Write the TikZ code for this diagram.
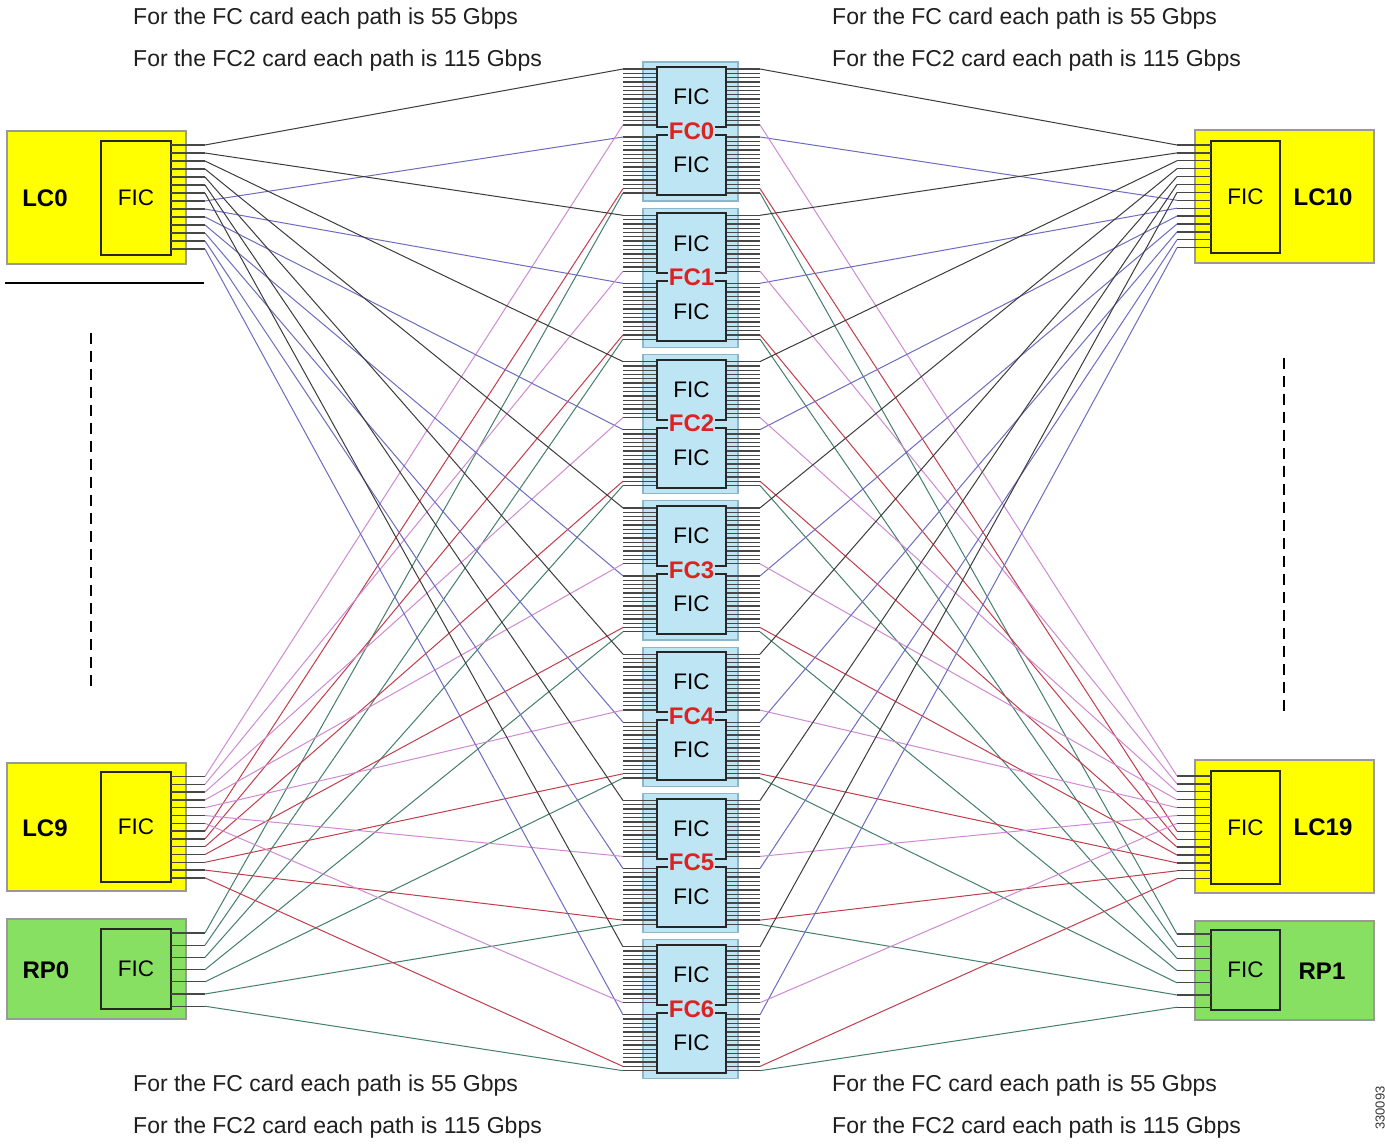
\documentclass[tikz,border=0pt]{standalone}
\usepackage{fontspec}
\setmainfont{Liberation Sans}
\usetikzlibrary{calc}
\definecolor{CardYellow}{HTML}{FFFF00}
\definecolor{CardGreen}{HTML}{88E062}
\definecolor{FabBlue}{HTML}{BEE5F3}
\definecolor{FabEdge}{HTML}{8FB6C8}
\definecolor{FCRed}{HTML}{DD2222}
\definecolor{LinkGrey}{HTML}{3C3C3C}
\definecolor{LinkBlue}{HTML}{6C6CC0}
\definecolor{LinkPink}{HTML}{CE8AD2}
\definecolor{LinkRed}{HTML}{C23C4C}
\definecolor{LinkGreen}{HTML}{447E6E}
\tikzset{
  card/.style={draw=black!40, line width=1.5pt, inner sep=0pt, outer sep=0pt},
  lcard/.style={card, fill=CardYellow},
  rpcard/.style={card, fill=CardGreen},
  ficbox/.style={draw=black!85, line width=2pt, inner sep=0pt, outer sep=0pt,
    font=\fontsize{22.5}{26}\selectfont},
  fabric/.style={draw=FabEdge, line width=1.2pt, fill=FabBlue, inner sep=0pt},
  stub/.style={draw=black!72, line width=1.3pt},
  link/.style={line width=1pt},
  cardname/.style={font=\fontsize{24}{28}\selectfont\bfseries},
  fcname/.style={font=\fontsize{24}{28}\selectfont\bfseries, text=FCRed,
    fill=FabBlue, inner sep=0.8pt},
  note/.style={font=\fontsize{23}{27}\selectfont, anchor=west, text=black!88,
    inner sep=0pt},
}

\begin{document}
\begin{tikzpicture}[x=1pt, y=-1pt]
  \fill[white] (0,0) rectangle (1385,1147);
  \useasboundingbox (0,0) rectangle (1385,1147);

  % notes above and below
  \node[note] (tl1) at (133,19) {For the FC card each path is 55 Gbps};
  \node[note] (tl2) at (133,61) {For the FC2 card each path is 115 Gbps};
  \node[note] (tr1) at (832,19) {For the FC card each path is 55 Gbps};
  \node[note] (tr2) at (832,61) {For the FC2 card each path is 115 Gbps};
  \node[note] (bl1) at (133,1086) {For the FC card each path is 55 Gbps};
  \node[note] (bl2) at (133,1128) {For the FC2 card each path is 115 Gbps};
  \node[note] (br1) at (832,1086) {For the FC card each path is 55 Gbps};
  \node[note] (br2) at (832,1128) {For the FC2 card each path is 115 Gbps};
  \node[rotate=90, anchor=base, inner sep=0pt, font=\fontsize{13}{15}\selectfont, text=black!80]
    (figno) at (1384.5,1108) {330093};

  % left side cards
  \node[lcard, minimum width=179pt, minimum height=133pt] (lc0) at (96.5,197.5) {};
  \node[lcard, minimum width=179pt, minimum height=128pt] (lc9) at (96.5,827) {};
  \node[rpcard, minimum width=179pt, minimum height=100pt] (rp0) at (96.5,969) {};
  \foreach \i in {0,...,13} {
    \coordinate (lc0-\i) at (205,{145+8*\i});
    \coordinate (lc9-\i) at (205,{776.5+7.8*\i});
  }
  \foreach \i in {0,...,6} \coordinate (rp0-\i) at (205,{933+12.2*\i});
  \node[ficbox, fill=CardYellow, minimum width=70pt, minimum height=114pt] (lc0fic) at (136,198) {FIC};
  \node[ficbox, fill=CardYellow, minimum width=70pt, minimum height=110pt] (lc9fic) at (136,827) {FIC};
  \node[ficbox, fill=CardGreen, minimum width=70pt, minimum height=80pt] (rp0fic) at (136,969) {FIC};
  \foreach \i in {0,...,13} {
    \draw[stub] (lc0fic.east |- lc0-\i) -- (lc0-\i);
    \draw[stub] (lc9fic.east |- lc9-\i) -- (lc9-\i);
  }
  \foreach \i in {0,...,6} \draw[stub] (rp0fic.east |- rp0-\i) -- (rp0-\i);
  \node[cardname] (lc0name) at (45,198) {LC0};
  \node[cardname] (lc9name) at (45,828) {LC9};
  \node[cardname] (rp0name) at (46,970) {RP0};

  % right side cards
  \node[lcard, minimum width=179pt, minimum height=133pt] (lc10) at (1284.5,196.5) {};
  \node[lcard, minimum width=179pt, minimum height=133pt] (lc19) at (1284.5,826.5) {};
  \node[rpcard, minimum width=179pt, minimum height=99pt] (rp1) at (1284.5,970.5) {};
  \foreach \i in {0,...,13} {
    \coordinate (lc10-\i) at (1177,{145+7.9*\i});
    \coordinate (lc19-\i) at (1177,{776+7.9*\i});
  }
  \foreach \i in {0,...,6} \coordinate (rp1-\i) at (1177,{934+12.2*\i});
  \node[ficbox, fill=CardYellow, minimum width=69pt, minimum height=112pt] (lc10fic) at (1245.5,197) {FIC};
  \node[ficbox, fill=CardYellow, minimum width=69pt, minimum height=113pt] (lc19fic) at (1245.5,827.5) {FIC};
  \node[ficbox, fill=CardGreen, minimum width=69pt, minimum height=80pt] (rp1fic) at (1245.5,970) {FIC};
  \foreach \i in {0,...,13} {
    \draw[stub] (lc10-\i) -- (lc10fic.west |- lc10-\i);
    \draw[stub] (lc19-\i) -- (lc19fic.west |- lc19-\i);
  }
  \foreach \i in {0,...,6} \draw[stub] (rp1-\i) -- (rp1fic.west |- rp1-\i);
  \node[cardname] (lc10name) at (1323,197) {LC10};
  \node[cardname] (lc19name) at (1323,827) {LC19};
  \node[cardname] (rp1name) at (1322,971) {RP1};

  % separators between the shown cards
  \draw[line width=2.5pt] (5,283) -- (204,283);
  \draw[line width=2.5pt, dash pattern=on 11pt off 7pt] (91,333) -- (91,686);
  \draw[line width=2.5pt, dash pattern=on 11pt off 7pt] (1284,358) -- (1284,711);

  % fabric cards, two FICs each
  \foreach \k in {0,...,6} {
    \pgfmathsetmacro\c{131+146.3*\k}
    \node[fabric, minimum width=95pt, minimum height=139pt] (fc\k) at (690.5,{\c+0.5}) {};
    \foreach \i in {0,...,13} {
      \coordinate (fc\k-lt\i) at (623,{\c-62+4.3*\i});
      \coordinate (fc\k-lb\i) at (623,{\c+6+4.3*\i});
      \coordinate (fc\k-rt\i) at (760,{\c-62+4.3*\i});
      \coordinate (fc\k-rb\i) at (760,{\c+6+4.3*\i});
      \draw[stub] (fc\k-lt\i) -- (657,{\c-62+4.3*\i});
      \draw[stub] (fc\k-lb\i) -- (657,{\c+6+4.3*\i});
      \draw[stub] (726,{\c-62+4.3*\i}) -- (fc\k-rt\i);
      \draw[stub] (726,{\c+6+4.3*\i}) -- (fc\k-rb\i);
    }
    \node[ficbox, fill=FabBlue, minimum width=69pt, minimum height=60pt] (fc\k-t) at (691.5,{\c-34}) {FIC};
    \node[ficbox, fill=FabBlue, minimum width=69pt, minimum height=60pt] (fc\k-b) at (691.5,{\c+34}) {FIC};
    \node[fcname] (fc\k-name) at (691.5,\c) {FC\k};
  }

  % links, two per line card and one per RP to every FC
  \foreach \k in {0,...,6} {
    \pgfmathtruncatemacro\j{\k+7}
    \draw[link, LinkGrey] (lc0-\k) -- (fc\k-lt0);
    \draw[link, LinkBlue] (lc0-\j) -- (fc\k-lb0);
    \draw[link, LinkPink] (lc9-\k) -- (fc\k-lt13);
    \draw[link, LinkRed] (lc9-\j) -- (fc\k-lb12);
    \draw[link, LinkGreen] (rp0-\k) -- (fc\k-lb13);
    \draw[link, LinkGrey] (fc\k-rt0) -- (lc10-\k);
    \draw[link, LinkBlue] (fc\k-rb0) -- (lc10-\j);
    \draw[link, LinkPink] (fc\k-rt13) -- (lc19-\k);
    \draw[link, LinkRed] (fc\k-rb12) -- (lc19-\j);
    \draw[link, LinkGreen] (fc\k-rb13) -- (rp1-\k);
  }
\end{tikzpicture}
\end{document}
